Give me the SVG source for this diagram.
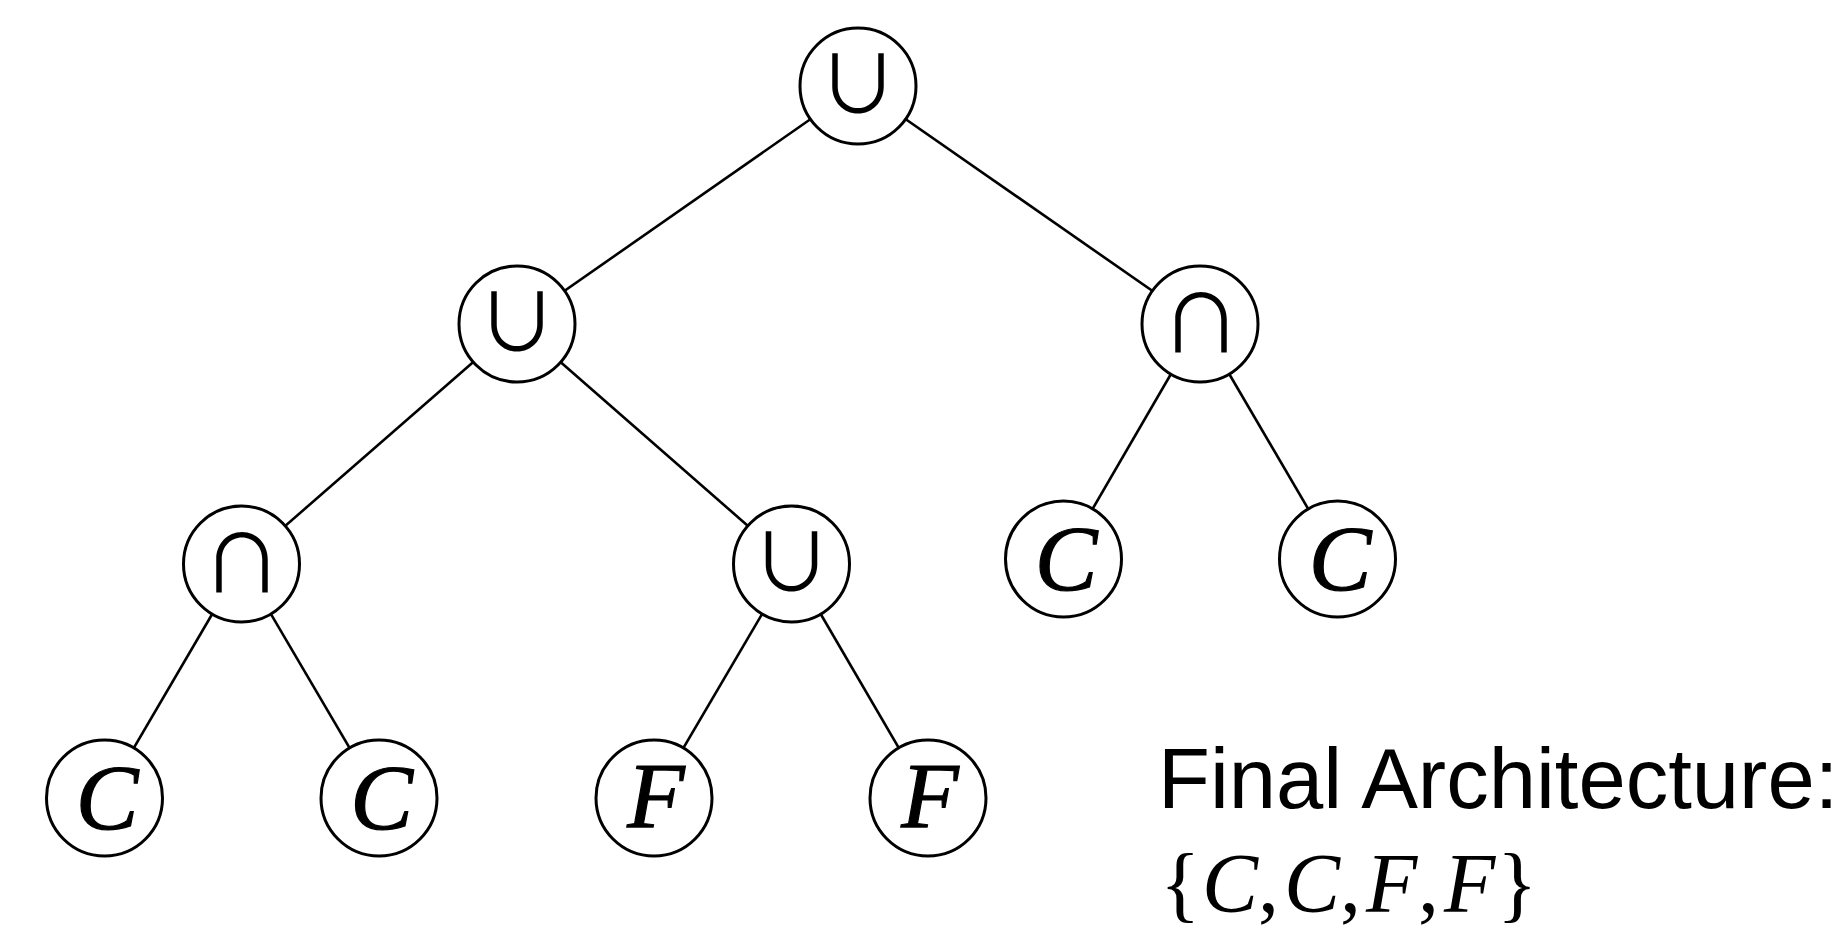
<svg xmlns="http://www.w3.org/2000/svg" width="1844" height="931" viewBox="0 0 1844 931">
<style>
.edge{stroke:#000;stroke-width:2.6;fill:none}
.node circle{fill:#fff;stroke:#000;stroke-width:3}
.op{font-family:"Noto Sans CJK JP","DejaVu Sans",sans-serif;font-size:80px;text-anchor:middle;fill:#000}
.var{font-family:"Liberation Serif",serif;font-style:italic;font-size:94px;text-anchor:middle;fill:#000;stroke:#000;stroke-width:1.2}
.cap{font-family:"Liberation Sans",Arial,sans-serif;font-size:85px;fill:#000}
.math{font-family:"Liberation Serif",serif;font-size:84px;fill:#000}
.it{font-style:italic}
</style>
<rect width="1844" height="931" fill="#fff"/>
<g id="connectors">
<line class="edge" x1="858" y1="86" x2="517" y2="324"/>
<line class="edge" x1="858" y1="86" x2="1200" y2="324"/>
<line class="edge" x1="517" y1="324" x2="241.5" y2="564"/>
<line class="edge" x1="517" y1="324" x2="791.5" y2="564"/>
<line class="edge" x1="1200" y1="324" x2="1063.5" y2="559"/>
<line class="edge" x1="1200" y1="324" x2="1337.5" y2="559"/>
<line class="edge" x1="241.5" y1="564" x2="104.5" y2="798"/>
<line class="edge" x1="241.5" y1="564" x2="379" y2="798"/>
<line class="edge" x1="791.5" y1="564" x2="654" y2="798"/>
<line class="edge" x1="791.5" y1="564" x2="928" y2="798"/>
</g>
<g id="root" class="node"><circle cx="858" cy="86" r="58"/><text class="op" x="858" y="113">∪</text></g>
<g id="n1" class="node"><circle cx="517" cy="324" r="58"/><text class="op" x="517" y="351">∪</text></g>
<g id="n2" class="node"><circle cx="1200" cy="324" r="58"/><text class="op" x="1201" y="352">∩</text></g>
<g id="n3" class="node"><circle cx="241.5" cy="564" r="58"/><text class="op" x="242" y="592">∩</text></g>
<g id="n4" class="node"><circle cx="791.5" cy="564" r="58"/><text class="op" x="791.5" y="591">∪</text></g>
<g id="n5" class="node"><circle cx="1063.5" cy="559" r="58"/><text class="var" x="1066" y="590">C</text></g>
<g id="n6" class="node"><circle cx="1337.5" cy="559" r="58"/><text class="var" x="1340" y="590">C</text></g>
<g id="n7" class="node"><circle cx="104.5" cy="798" r="58"/><text class="var" x="107" y="829">C</text></g>
<g id="n8" class="node"><circle cx="379" cy="798" r="58"/><text class="var" x="381.5" y="829">C</text></g>
<g id="n9" class="node"><circle cx="654" cy="798" r="58"/><text class="var" x="656" y="827">F</text></g>
<g id="n10" class="node"><circle cx="928" cy="798" r="58"/><text class="var" x="930" y="827">F</text></g>
<g id="caption">
<text class="cap" x="1158" y="808">Final Architecture:</text>
<text class="math" y="912"><tspan x="1160">{</tspan><tspan class="it" x="1202">C</tspan><tspan x="1258">,</tspan><tspan class="it" x="1284">C</tspan><tspan x="1340">,</tspan><tspan class="it" x="1366">F</tspan><tspan x="1418">,</tspan><tspan class="it" x="1444">F</tspan><tspan x="1497">}</tspan></text>
</g>
</svg>
